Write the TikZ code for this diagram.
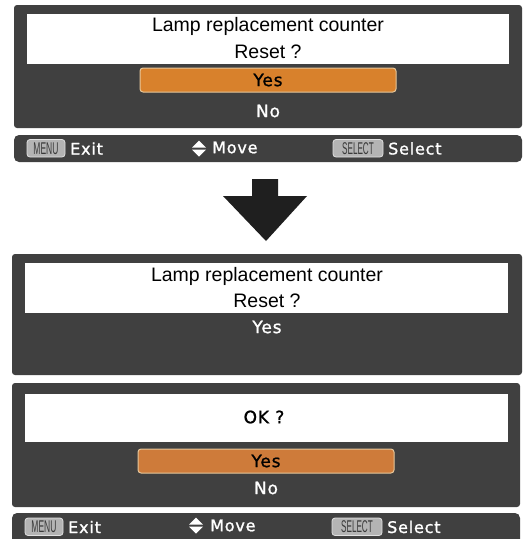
\documentclass[tikz,border=0pt]{standalone}
\usepackage{fontspec}
\setmainfont{Liberation Sans}
\newfontfamily\osdfont[LetterSpace=5,FakeBold=1.2]{DejaVu Sans}
\newfontfamily\keyfont{Liberation Sans}
\definecolor{panel}{HTML}{404040}
\definecolor{hilite}{HTML}{D8812C}
\definecolor{hiliteb}{HTML}{CE7B3A}
\definecolor{hiedge}{HTML}{E6C79B}
\definecolor{keyfill}{HTML}{B4B4B4}
\definecolor{keyedge}{HTML}{E0E0E0}
\definecolor{keytext}{HTML}{3A3A3A}
\tikzset{
  panelbox/.style={fill=panel, rounded corners=3pt},
  barbox/.style={fill=panel, rounded corners=5pt},
  msgbox/.style={fill=white},
  selbar/.style={fill=#1, draw=hiedge, line width=1pt, rounded corners=3pt},
  msgtext/.style={font=\fontsize{19.5}{23}\selectfont, text=black, inner sep=0pt},
  osdtext/.style={font=\osdfont\fontsize{17}{20}\selectfont, inner sep=0pt},
  bartext/.style={font=\osdfont\fontsize{16}{19}\selectfont, text=white, inner sep=0pt, anchor=west},
  keycap/.style={fill=keyfill, draw=keyedge, line width=0.8pt, rounded corners=3pt},
  keylabel/.style={font=\keyfont\fontsize{17}{19}\selectfont, text=keytext, inner sep=0pt},
}
\begin{document}
\begin{tikzpicture}[x=1pt, y=-1pt]
\useasboundingbox (0,0) rectangle (526,539);
\clip (0,0) rectangle (526,539);

% ---------- first dialog ----------
\fill[panelbox] (14,5) rectangle (522,128);
\fill[msgbox] (27,14) rectangle (509,64);
\node[msgtext] (t1a) at (268,26) {Lamp replacement counter};
\node[msgtext] (t1b) at (268,52) {Reset ?};
\draw[selbar=hilite] (140,68) rectangle (396,92);
\node[osdtext, text=black] (y1) at (268,80) {Yes};
\node[osdtext, text=white] (n1) at (268,111) {No};

% ---------- first guide bar ----------
\fill[barbox] (14,135) rectangle (522,162);
\draw[keycap] (27,139.5) rectangle (65,157);
\node[keylabel] (k1) at (46,148.5) {\scalebox{0.5}[1]{MENU}};
\node[bartext] (e1) at (70,148.5) {Exit};
\fill[white] (192,147.5) -- (206,147.5) -- (199,140.5) -- cycle;
\fill[white] (192,149.5) -- (206,149.5) -- (199,156.5) -- cycle;
\node[bartext] (m1) at (212,147.5) {Move};
\draw[keycap] (333,139.5) rectangle (383,157);
\node[keylabel] (k2) at (358,148.5) {\scalebox{0.48}[1]{SELECT}};
\node[bartext] (s1) at (388,148.5) {Select};

% ---------- transition arrow ----------
\fill[black!88] (252,179) -- (278,179) -- (278,196) -- (307,196)
  -- (266,241) -- (223,196) -- (252,196) -- cycle;

% ---------- second dialog ----------
\fill[panelbox] (12,254) rectangle (522,375);
\fill[msgbox] (25,263) rectangle (508,313);
\node[msgtext] (t2a) at (267,276) {Lamp replacement counter};
\node[msgtext] (t2b) at (267,301) {Reset ?};
\node[osdtext, text=white] (y2) at (267,327) {Yes};

% ---------- confirmation dialog ----------
\fill[panelbox] (12,383) rectangle (520,507);
\fill[msgbox] (25,394) rectangle (508,442);
\node[osdtext, text=black] (ok) at (264,417) {OK ?};
\draw[selbar=hiliteb] (138,449) rectangle (394,473);
\node[osdtext, text=black] (y3) at (266,461) {Yes};
\node[osdtext, text=white] (n3) at (266,488) {No};

% ---------- second guide bar ----------
\fill[barbox] (12,513) rectangle (520,545);
\draw[keycap] (25,518) rectangle (63,535.5);
\node[keylabel] (k3) at (44,527) {\scalebox{0.5}[1]{MENU}};
\node[bartext] (e2) at (68,527) {Exit};
\fill[white] (189,524.5) -- (203,524.5) -- (196,517.5) -- cycle;
\fill[white] (189,526.5) -- (203,526.5) -- (196,533.5) -- cycle;
\node[bartext] (m2) at (210,525.5) {Move};
\draw[keycap] (332,518) rectangle (382,535.5);
\node[keylabel] (k4) at (357,527) {\scalebox{0.48}[1]{SELECT}};
\node[bartext] (s2) at (387,527) {Select};
\end{tikzpicture}
\end{document}
